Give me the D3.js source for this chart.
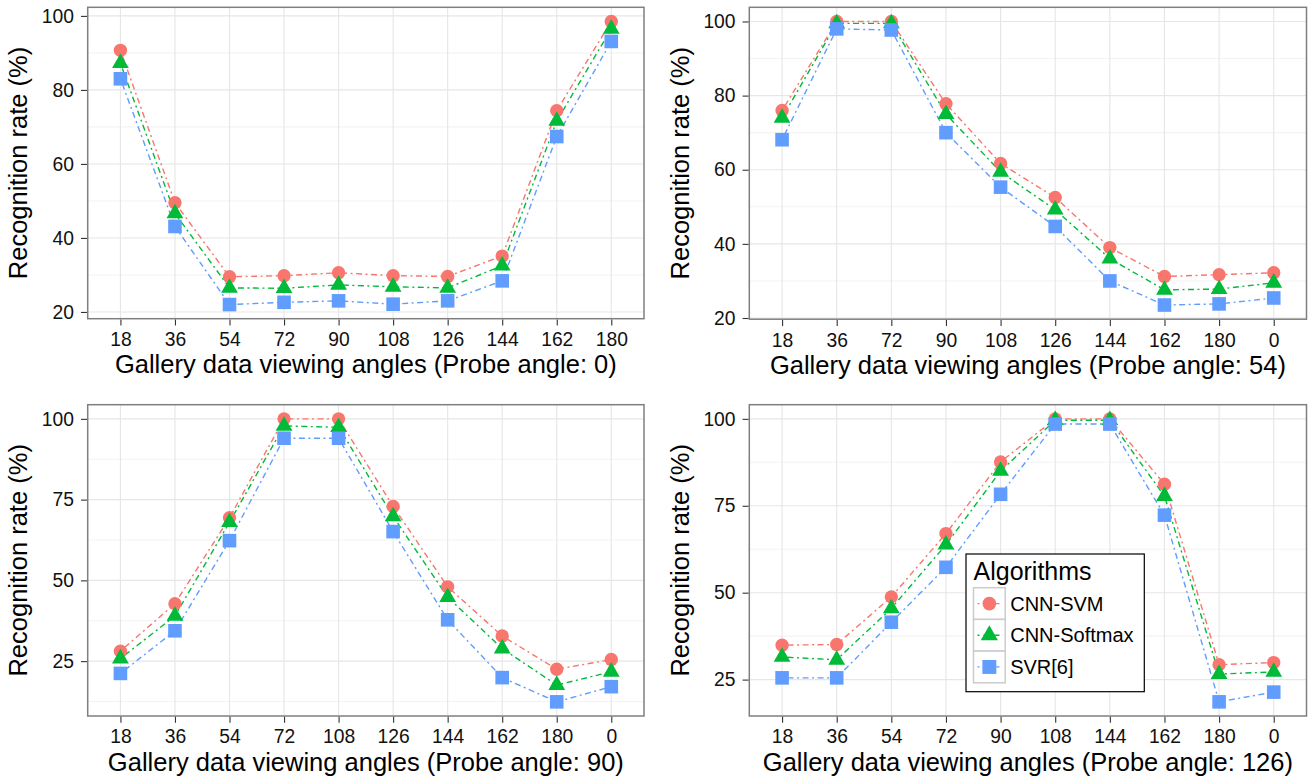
<!DOCTYPE html>
<html>
<head>
<meta charset="utf-8">
<script src="https://cdn.jsdelivr.net/npm/d3@7"></script>
<style>
  html, body { margin: 0; padding: 0; background: #fff; }
  svg text { font-family: "Liberation Sans", Arial, Helvetica, sans-serif; }
</style>
</head>
<body>
<svg id="chart" width="1316" height="780"></svg>
<script>
// ---------------- data ----------------
const seriesNames = ["CNN-SVM", "CNN-Softmax", "SVR[6]"];
const seriesColors = ["#F8766D", "#00BA38", "#619CFF"];

// Probe angle 0
const cats0 = ["18", "36", "54", "72", "90", "108", "126", "144", "162", "180"];
const svm0  = [90.7, 49.5, 29.5, 29.8, 30.6, 29.8, 29.6, 35.1, 74.4, 98.5];
const soft0 = [87.2, 46.6, 26.5, 26.4, 27.3, 26.8, 26.5, 32.5, 71.6, 96.5];
const svr0  = [83.0, 43.1, 22.0, 22.6, 23.0, 22.1, 23.0, 28.4, 67.4, 93.1];

// Probe angle 54
const cats54 = ["18", "36", "72", "90", "108", "126", "144", "162", "180", "0"];
const svm54  = [76.0, 100, 100, 77.8, 61.7, 52.5, 39.0, 31.2, 31.7, 32.2];
const soft54 = [74.0, 99.5, 99.5, 75.0, 59.4, 49.2, 36.0, 27.6, 27.8, 29.5];
const svr54  = [68.1, 98.0, 97.7, 70.0, 55.3, 44.7, 30.0, 23.5, 23.8, 25.4];

// Probe angle 90
const cats90 = ["18", "36", "54", "72", "108", "126", "144", "162", "180", "0"];
const svm90  = [28.1, 42.8, 69.4, 100, 100, 72.9, 48.0, 32.8, 22.5, 25.5];
const soft90 = [25.8, 39.0, 68.0, 97.8, 97.4, 69.8, 44.8, 28.9, 17.6, 21.7];
const svr90  = [21.2, 34.4, 62.3, 94.0, 94.0, 65.1, 37.8, 19.9, 12.4, 17.1];

// Probe angle 126
const cats126 = ["18", "36", "54", "72", "90", "108", "144", "162", "180", "0"];
const svm126  = [34.9, 35.1, 48.8, 67.0, 87.6, 100, 100, 81.2, 29.3, 29.9];
const soft126 = [31.5, 30.7, 45.5, 63.8, 85.0, 99.6, 99.6, 77.8, 26.6, 27.2];
const svr126  = [25.5, 25.5, 41.5, 57.3, 78.3, 98.5, 98.5, 72.3, 18.6, 21.4];

const ticksA = [20, 40, 60, 80, 100];
const ticksB = [25, 50, 75, 100];
const probeLabels = ["0", "54", "90", "126"];

const xTitlePrefix = "Gallery data viewing angles (Probe angle: ";
const yTitle = "Recognition rate (%)";
const legendTitle = "Algorithms";

// ---------------- layout ----------------
const panels = [
  { cats: cats0,   vals: [svm0, soft0, svr0],       ticks: ticksA, probe: probeLabels[0], x0: 87.7,  x1: 644,    y0: 7.3,   y1: 318.7, legend: false },
  { cats: cats54,  vals: [svm54, soft54, svr54],    ticks: ticksA, probe: probeLabels[1], x0: 749.3, x1: 1306.5, y0: 7.3,   y1: 319.2, legend: false },
  { cats: cats90,  vals: [svm90, soft90, svr90],    ticks: ticksB, probe: probeLabels[2], x0: 87.7,  x1: 644,    y0: 404.7, y1: 716,   legend: false },
  { cats: cats126, vals: [svm126, soft126, svr126], ticks: ticksB, probe: probeLabels[3], x0: 749.3, x1: 1306.5, y0: 404.7, y1: 716,   legend: true }
];

const svg = d3.select("#chart");
const dash = "2,3.5,6,3.5";
const shapes = [d3.symbolCircle, d3.symbolTriangle, d3.symbolSquare];
const shapeSizes = [140, 122, 185];

function minorBreaks(ticks, domain) {
  const step = ticks[1] - ticks[0];
  const out = [];
  for (let v = ticks[0] - step / 2; v <= domain[1]; v += step) {
    if (v >= domain[0] && v <= domain[1]) out.push(v);
  }
  return out;
}

panels.forEach(p => {
  const g = svg.append("g");
  const all = p.vals.flat();
  const mn = d3.min(all), mx = d3.max(all);
  const pad = (mx - mn) * 0.05;
  const domain = [mn - pad, mx + pad];

  const x = d3.scalePoint().domain(p.cats).range([p.x0, p.x1]).padding(0.6);
  const y = d3.scaleLinear().domain(domain).range([p.y1, p.y0]);

  g.append("rect").attr("x", p.x0).attr("y", p.y0)
    .attr("width", p.x1 - p.x0).attr("height", p.y1 - p.y0).attr("fill", "#fff");

  g.selectAll(".minor").data(minorBreaks(p.ticks, domain)).enter().append("line")
    .attr("x1", p.x0).attr("x2", p.x1)
    .attr("y1", d => y(d)).attr("y2", d => y(d))
    .attr("stroke", "#f3f3f3").attr("stroke-width", 1.1);

  g.selectAll(".majory").data(p.ticks).enter().append("line")
    .attr("x1", p.x0).attr("x2", p.x1)
    .attr("y1", d => y(d)).attr("y2", d => y(d))
    .attr("stroke", "#e6e6e6").attr("stroke-width", 1.1);
  g.selectAll(".majorx").data(p.cats).enter().append("line")
    .attr("y1", p.y0).attr("y2", p.y1)
    .attr("x1", d => x(d)).attr("x2", d => x(d))
    .attr("stroke", "#e6e6e6").attr("stroke-width", 1.1);

  const line = d3.line().x((d, i) => x(p.cats[i])).y(d => y(d));
  p.vals.forEach((vals, s) => {
    g.append("path").datum(vals)
      .attr("d", line)
      .attr("fill", "none")
      .attr("stroke", seriesColors[s])
      .attr("stroke-width", 1.4)
      .attr("stroke-dasharray", dash);
  });

  p.vals.forEach((vals, s) => {
    g.selectAll(".pt" + s).data(vals).enter().append("path")
      .attr("d", d3.symbol().type(shapes[s]).size(shapeSizes[s]))
      .attr("transform", (d, i) => `translate(${x(p.cats[i])},${y(d)})`)
      .attr("fill", seriesColors[s]);
  });

  g.append("rect").attr("x", p.x0).attr("y", p.y0)
    .attr("width", p.x1 - p.x0).attr("height", p.y1 - p.y0)
    .attr("fill", "none").attr("stroke", "#7f7f7f").attr("stroke-width", 1.5);

  const yAxis = d3.axisLeft(y).tickValues(p.ticks).tickSize(6).tickPadding(7);
  const ya = g.append("g").attr("transform", `translate(${p.x0 - 0.75},0)`).call(yAxis);
  ya.select(".domain").remove();
  ya.selectAll("line").attr("stroke", "#333").attr("stroke-width", 1.1);
  ya.selectAll("text").attr("font-size", 19.3).attr("fill", "#111")
    .attr("font-family", '"Liberation Sans", Arial, sans-serif');

  const xAxis = d3.axisBottom(x).tickSize(6).tickPadding(7);
  const xa = g.append("g").attr("transform", `translate(0,${p.y1 + 0.75})`).call(xAxis);
  xa.select(".domain").remove();
  xa.selectAll("line").attr("stroke", "#333").attr("stroke-width", 1.1);
  xa.selectAll("text").attr("font-size", 19.3).attr("fill", "#111")
    .attr("font-family", '"Liberation Sans", Arial, sans-serif');

  g.append("text")
    .attr("x", (p.x0 + p.x1) / 2).attr("y", p.y1 + 54.6)
    .attr("text-anchor", "middle").attr("font-size", 25.5).attr("fill", "#000")
    .text(xTitlePrefix + p.probe + ")");
  g.append("text")
    .attr("transform", `translate(${p.x0 - 60.5},${(p.y0 + p.y1) / 2}) rotate(-90)`)
    .attr("text-anchor", "middle").attr("font-size", 25.5).attr("fill", "#000")
    .text(yTitle);

  if (p.legend) {
    const lx = 966, ly = 554, lw = 178.3, lh = 137.7;
    const lg = g.append("g");
    lg.append("rect").attr("x", lx).attr("y", ly).attr("width", lw).attr("height", lh)
      .attr("fill", "#fff").attr("stroke", "#000").attr("stroke-width", 1.2);
    lg.append("text").attr("x", lx + 7.5).attr("y", ly + 26)
      .attr("font-size", 25).attr("fill", "#000").text(legendTitle);
    const ks = 31.7, kx = lx + 7.5, ky0 = ly + 33.7;
    seriesNames.forEach((name, s) => {
      const ky = ky0 + s * ks;
      lg.append("rect").attr("x", kx).attr("y", ky).attr("width", ks).attr("height", ks)
        .attr("fill", "#fff").attr("stroke", "#cccccc").attr("stroke-width", 1.5);
      lg.append("line").attr("x1", kx + 4).attr("x2", kx + ks - 4)
        .attr("y1", ky + ks / 2).attr("y2", ky + ks / 2)
        .attr("stroke", seriesColors[s]).attr("stroke-width", 1.3)
        .attr("stroke-dasharray", "2,4,16,4");
      lg.append("path")
        .attr("d", d3.symbol().type(shapes[s]).size(shapeSizes[s] * 1.05))
        .attr("transform", `translate(${kx + ks / 2},${ky + ks / 2})`)
        .attr("fill", seriesColors[s]);
      lg.append("text").attr("x", kx + ks + 5).attr("y", ky + ks / 2)
        .attr("dy", "0.36em").attr("font-size", 20).attr("fill", "#000").text(name);
    });
  }
});
</script>
</body>
</html>
